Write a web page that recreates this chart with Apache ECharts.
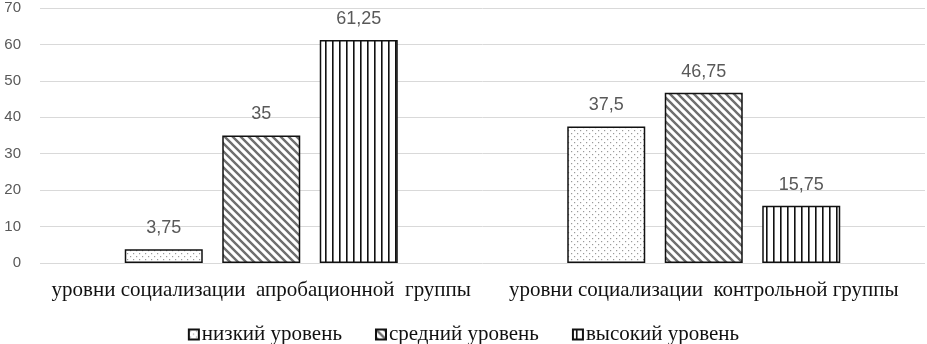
<!DOCTYPE html>
<html><head><meta charset="utf-8">
<script src="https://cdn.jsdelivr.net/npm/echarts@6/dist/echarts.min.js"></script>
<style>html,body{margin:0;padding:0;background:#fff}#c{width:927px;height:344px}</style>
</head><body><div id="c"></div>
<script>
const categories = ['уровни социализации  апробационной  группы', 'уровни социализации  контрольной группы'];
const seriesNames = ['низкий уровень', 'средний уровень', 'высокий уровень'];
const lowValues = [3.75, 37.5];
const midValues = [35, 46.75];
const highValues = [61.25, 15.75];
const yTicks = [0, 10, 20, 30, 40, 50, 60, 70];

function pat(kind){
  const c = document.createElement('canvas');
  const ctx = c.getContext('2d');
  if(kind==='dots'){
    c.width=6;c.height=6;
    ctx.fillStyle='#fff';ctx.fillRect(0,0,6,6);
    ctx.fillStyle='#9a9a9a';
    ctx.fillRect(1,1,1.2,1.2);ctx.fillRect(4,4,1.2,1.2);
  } else if(kind==='diag'){
    c.width=8;c.height=8;
    ctx.fillStyle='#fff';ctx.fillRect(0,0,8,8);
    ctx.strokeStyle='#6e6e6e';ctx.lineWidth=2.4;
    ctx.beginPath();
    ctx.moveTo(-2,-2);ctx.lineTo(10,10);
    ctx.moveTo(-2,6);ctx.lineTo(2,10);
    ctx.moveTo(6,-2);ctx.lineTo(10,2);
    ctx.stroke();
  } else {
    c.width=7;c.height=4;
    ctx.fillStyle='#fff';ctx.fillRect(0,0,7,4);
    ctx.fillStyle='#111';ctx.fillRect(3,0,1.6,4);
  }
  return {image:c, repeat:'repeat'};
}
const pats = [pat('dots'), pat('diag'), pat('vert')];
const data = [lowValues, midValues, highValues];

const chart = echarts.init(document.getElementById('c'));
chart.setOption({
  animation:false,
  grid:{left:40,right:2,top:8,bottom:81,containLabel:false},
  legend:{
    top:319,left:'center',itemWidth:10,itemHeight:10,itemGap:33,icon:'rect',
    textStyle:{fontFamily:'Liberation Serif',fontSize:21,color:'#111',padding:[0,0,0,-2]},
    data:seriesNames
  },
  xAxis:{type:'category',data:categories,
    axisLine:{show:false},axisTick:{show:false},
    axisLabel:{interval:0,fontFamily:'Liberation Serif',fontSize:21,color:'#111',margin:17}},
  yAxis:{type:'value',min:0,max:70,interval:10,
    axisLine:{show:false},axisTick:{show:false},
    splitLine:{lineStyle:{color:'#d9d9d9',width:1}},
    axisLabel:{fontFamily:'Liberation Sans',fontSize:15,color:'#595959',margin:19,
      formatter:v=>yTicks.includes(v)?String(v):''}},
  series: seriesNames.map((n,i)=>({
    name:n,type:'bar',data:data[i],
    barWidth:78,barGap:'25%',
    itemStyle:{color:pats[i],borderColor:'#111',borderWidth:1.5},
    label:{show:true,position:'top',distance:12,fontFamily:'Liberation Sans',fontSize:18,color:'#595959',
      formatter:p=>String(p.value).replace('.',',')}
  }))
});
</script></body></html>
